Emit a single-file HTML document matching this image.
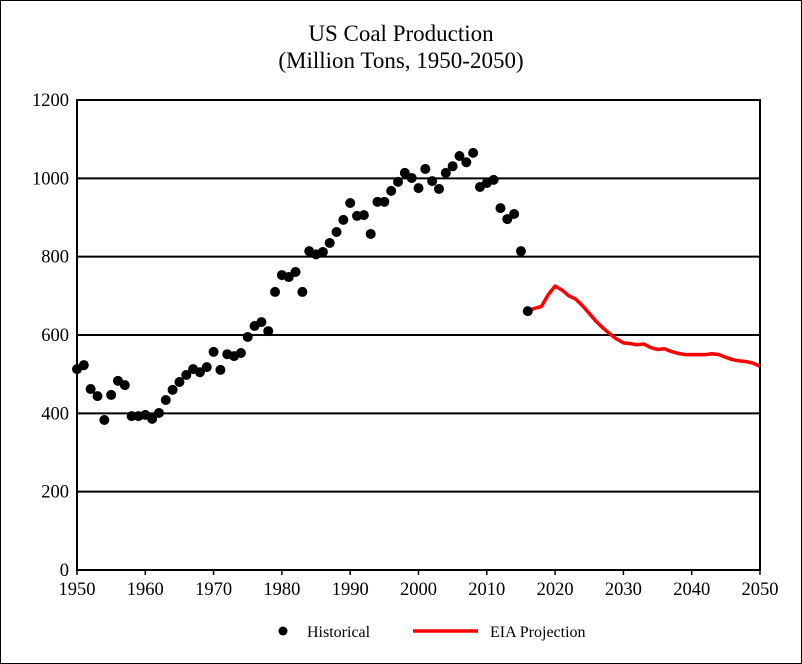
<!DOCTYPE html>
<html><head><meta charset="utf-8"><style>
body{margin:0;background:#fff}
svg{display:block;font-family:"Liberation Serif",serif}
</style></head><body>
<svg width="802" height="664">
<rect x="0.5" y="0.5" width="801" height="663" fill="#fff" stroke="#000"/>
<text x="401" y="41" text-anchor="middle" font-size="23">US Coal Production</text>
<text x="401" y="68" text-anchor="middle" font-size="23">(Million Tons, 1950-2050)</text>
<g id="grid"></g><g id="axes"></g><g id="marks"></g>
<g>
<circle cx="283" cy="631" r="4.5" fill="#000"/>
<text x="307" y="637" font-size="16">Historical</text>
<line x1="413" y1="631" x2="478" y2="631" stroke="#f00" stroke-width="3.5"/>
<text x="490" y="637" font-size="16">EIA Projection</text>
</g>
</svg>
<script>
const histYears=[1950,1951,1952,1953,1954,1955,1956,1957,1958,1959,1960,1961,1962,1963,1964,1965,1966,1967,1968,1969,1970,1971,1972,1973,1974,1975,1976,1977,1978,1979,1980,1981,1982,1983,1984,1985,1986,1987,1988,1989,1990,1991,1992,1993,1994,1995,1996,1997,1998,1999,2000,2001,2002,2003,2004,2005,2006,2007,2008,2009,2010,2011,2012,2013,2014,2015,2016];
const histValues=[513,523,462,444,383,447,483,472,393,393,396,386,401,434,460,480,498,513,505,518,557,511,551,546,554,595,623,633,610,710,753,748,761,710,814,806,812,835,863,894,937,904,906,858,940,940,968,991,1014,1001,975,1024,993,973,1014,1031,1057,1041,1065,978,988,996,924,896,909,814,661];
const projYears=[2016,2017,2018,2019,2020,2021,2022,2023,2024,2025,2026,2027,2028,2029,2030,2031,2032,2033,2034,2035,2036,2037,2038,2039,2040,2041,2042,2043,2044,2045,2046,2047,2048,2049,2050];
const projValues=[661,668,673,703,725,715,700,692,675,655,635,618,603,590,580,578,575,577,568,563,565,558,553,550,550,550,550,552,550,543,537,534,532,528,520];
const yTicks=[0,200,400,600,800,1000,1200];
const xTicks=[1950,1960,1970,1980,1990,2000,2010,2020,2030,2040,2050];
const L=77,R=760,T=100,B=570;
const x=v=>L+(v-1950)/100*(R-L);
const y=v=>B-v/1200*(B-T);
const NS="http://www.w3.org/2000/svg";
function mk(tag,parent,attrs){const e=document.createElementNS(NS,tag);for(const k in attrs)e.setAttribute(k,attrs[k]);document.getElementById(parent).appendChild(e);return e;}
yTicks.forEach(v=>{
 const g=mk('line','grid',{x1:L,x2:R,y1:y(v),y2:y(v),stroke:'#000','stroke-width':2});
 
 
 const t=mk('text','axes',{x:L-8,y:y(v)+6,'text-anchor':'end','font-size':18.5});
 t.textContent=v;
 
 
});
xTicks.forEach(v=>{
 const tk=mk('line','axes',{x1:x(v),x2:x(v),y1:B,y2:B+5,stroke:'#000','stroke-width':1.5});
 
 
 const t=mk('text','axes',{x:x(v),y:B+25,'text-anchor':'middle','font-size':18.5});
 t.textContent=v;
 
 
});
const fr=mk('rect','axes',{x:L,y:T,width:R-L,height:B-T,fill:'none',stroke:'#000','stroke-width':2});


const pl=mk('polyline','marks',{points:projYears.map((yr,i)=>x(yr)+','+y(projValues[i])).join(' '),fill:'none',stroke:'#f00','stroke-width':3.5,'stroke-linejoin':'round'});


histYears.forEach((yr,i)=>{
 const c=mk('circle','marks',{cx:x(yr),cy:y(histValues[i]),r:5,fill:'#000'});
 
 
});
</script>
</body></html>
